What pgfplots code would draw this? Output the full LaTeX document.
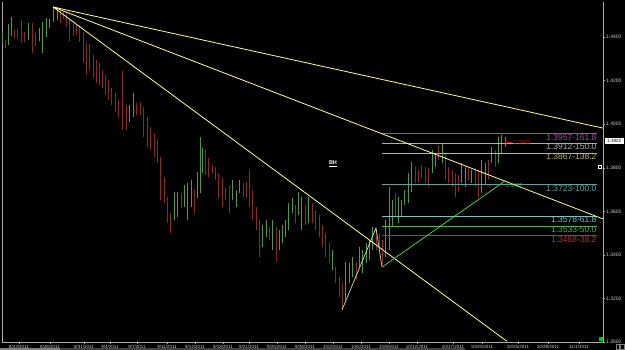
\documentclass[border=0pt]{standalone}
\usepackage{pgfplots}
\pgfplotsset{compat=1.18}
\usepackage{fontspec}
\setmainfont{Liberation Sans}
\definecolor{bargreen}{RGB}{75,155,75}
\definecolor{barred}{RGB}{140,42,42}
\definecolor{fanyellow}{RGB}{255,255,140}
\definecolor{legpale}{RGB}{200,230,160}
\definecolor{leggreen}{RGB}{80,200,80}
\definecolor{fibA}{RGB}{165,75,165}
\definecolor{fibB}{RGB}{175,175,175}
\definecolor{fibC}{RGB}{185,185,115}
\definecolor{fibD}{RGB}{100,160,160}
\definecolor{fibE}{RGB}{120,195,195}
\definecolor{fibF}{RGB}{80,175,80}
\definecolor{fibG}{RGB}{185,50,50}
\definecolor{axgray}{RGB}{170,170,170}
\definecolor{labgray}{RGB}{205,205,205}
\begin{document}
\begin{tikzpicture}
\fill[black] (0,0) rectangle (625pt,350pt);
\fill[black!75] (0,0) rectangle (465pt,2pt);
\fill[black!50] (0,0) rectangle (60pt,2pt);
\begin{axis}[
  at={(2pt,348pt)}, anchor=north west,
  scale only axis, width=601pt, height=340pt,
  xmin=2, xmax=603, ymin=1.3000, ymax=1.4561,
  axis x line*=bottom, axis y line*=right,
  axis line style={axgray, line width=0.6pt},
  clip=false,
  tick align=outside, major tick length=2pt,
  tick style={axgray, line width=0.4pt},
  ytick={1.30,1.32,1.34,1.36,1.38,1.40,1.42,1.44},
  /pgf/number format/assume math mode=true,
  yticklabel style={/pgf/number format/fixed, /pgf/number format/fixed zerofill, /pgf/number format/precision=4, font=\fontsize{5}{5.5}\selectfont, text=labgray, inner sep=1pt},
  xtick={19,50,84,110,137,167,195,223,249,277,305,333,361,389,417,453,482,518,548,579},
  xticklabels={8/23/2011,8/26/2011,8/31/2011,9/4/2011,9/7/2011,9/11/2011,9/14/2011,9/18/2011,9/21/2011,9/25/2011,9/28/2011,10/2/2011,10/5/2011,10/9/2011,10/12/2011,10/17/2011,10/20/2011,10/25/2011,10/28/2011,11/1/2011},
  xticklabel style={font=\fontsize{4.5}{5}\selectfont, text=labgray, inner sep=0.6pt},
]
\draw[axgray, line width=0.6pt] (rel axis cs:0,0) -- (rel axis cs:0,1);
% green bars (high-low)
\addplot[bargreen, line width=0.9pt, unbounded coords=jump] coordinates {
(2,1.4373)(2,1.4423)(2,nan)
(8,1.4363)(8,1.4460)(8,nan)
(11,1.4405)(11,1.4492)(11,nan)
(28,1.4386)(28,1.4464)(28,nan)
(39,1.4382)(39,1.4441)(39,nan)
(42,1.4327)(42,1.4469)(42,nan)
(46,1.4400)(46,1.4487)(46,nan)
(49,1.4441)(49,1.4483)(49,nan)
(53,1.4469)(53,1.4538)(53,nan)
(57,1.4478)(57,1.4538)(57,nan)
(129,1.4010)(129,1.4088)(129,nan)
(133,1.4033)(133,1.4143)(133,nan)
(174,1.3560)(174,1.3689)(174,nan)
(177,1.3574)(177,1.3689)(177,nan)
(184,1.3620)(184,1.3721)(184,nan)
(187,1.3560)(187,1.3730)(187,nan)
(191,1.3620)(191,1.3744)(191,nan)
(197,1.3661)(197,1.3781)(197,nan)
(200,1.3684)(200,1.3941)(200,nan)
(202,1.3776)(202,1.3891)(202,nan)
(232,1.3652)(232,1.3744)(232,nan)
(236,1.3620)(236,1.3698)(236,nan)
(239,1.3684)(239,1.3744)(239,nan)
(262,1.3436)(262,1.3537)(262,nan)
(266,1.3482)(266,1.3560)(266,nan)
(272,1.3422)(272,1.3560)(272,nan)
(279,1.3422)(279,1.3514)(279,nan)
(282,1.3455)(282,1.3537)(282,nan)
(285,1.3482)(285,1.3560)(285,nan)
(288,1.3514)(288,1.3638)(288,nan)
(292,1.3592)(292,1.3661)(292,nan)
(298,1.3583)(298,1.3689)(298,nan)
(301,1.3514)(301,1.3666)(301,nan)
(308,1.3546)(308,1.3666)(308,nan)
(332,1.3331)(332,1.3422)(332,nan)
(345,1.3193)(345,1.3367)(345,nan)
(349,1.3271)(349,1.3363)(349,nan)
(352,1.3299)(352,1.3390)(352,nan)
(359,1.3344)(359,1.3436)(359,nan)
(362,1.3317)(362,1.3422)(362,nan)
(366,1.3363)(366,1.3455)(366,nan)
(369,1.3377)(369,1.3468)(369,nan)
(372,1.3422)(372,1.3528)(372,nan)
(385,1.3390)(385,1.3560)(385,nan)
(389,1.3422)(389,1.3712)(389,nan)
(392,1.3528)(392,1.3652)(392,nan)
(398,1.3546)(398,1.3666)(398,nan)
(401,1.3574)(401,1.3652)(401,nan)
(404,1.3629)(404,1.3698)(404,nan)
(408,1.3638)(408,1.3776)(408,nan)
(411,1.3689)(411,1.3826)(411,nan)
(432,1.3776)(432,1.3881)(432,nan)
(435,1.3803)(435,1.3868)(435,nan)
(442,1.3822)(442,1.3914)(442,nan)
(461,1.3730)(461,1.3822)(461,nan)
(465,1.3712)(465,1.3803)(465,nan)
(471,1.3730)(471,1.3790)(471,nan)
(481,1.3684)(481,1.3836)(481,nan)
(485,1.3721)(485,1.3822)(485,nan)
(491,1.3822)(491,1.3895)(491,nan)
(498,1.3822)(498,1.3941)(498,nan)
(501,1.3868)(501,1.3950)(501,nan)
(505,1.3895)(505,1.3941)(505,nan)
};
% red bars (high-low)
\addplot[barred, line width=0.9pt, unbounded coords=jump] coordinates {
(5,1.4350)(5,1.4386)(5,nan)
(14,1.4396)(14,1.4432)(14,nan)
(17,1.4396)(17,1.4437)(17,nan)
(21,1.4373)(21,1.4478)(21,nan)
(24,1.4377)(24,1.4423)(24,nan)
(32,1.4327)(32,1.4464)(32,nan)
(35,1.4359)(35,1.4419)(35,nan)
(60,1.4464)(60,1.4529)(60,nan)
(63,1.4483)(63,1.4520)(63,nan)
(66,1.4446)(66,1.4520)(66,nan)
(69,1.4382)(69,1.4478)(69,nan)
(73,1.4405)(73,1.4460)(73,nan)
(76,1.4409)(76,1.4455)(76,nan)
(79,1.4377)(79,1.4455)(79,nan)
(83,1.4285)(83,1.4423)(83,nan)
(86,1.4226)(86,1.4373)(86,nan)
(89,1.4249)(89,1.4368)(89,nan)
(93,1.4212)(93,1.4318)(93,nan)
(96,1.4190)(96,1.4295)(96,nan)
(99,1.4180)(99,1.4281)(99,nan)
(102,1.4166)(102,1.4249)(102,nan)
(105,1.4134)(105,1.4226)(105,nan)
(108,1.4111)(108,1.4203)(108,nan)
(111,1.4088)(111,1.4166)(111,nan)
(115,1.4056)(115,1.4143)(115,nan)
(118,1.4033)(118,1.4111)(118,nan)
(122,1.3973)(122,1.4244)(122,nan)
(126,1.3973)(126,1.4088)(126,nan)
(136,1.4042)(136,1.4097)(136,nan)
(140,1.4042)(140,1.4102)(140,nan)
(143,1.3941)(143,1.4079)(143,nan)
(147,1.3895)(147,1.4033)(147,nan)
(150,1.3881)(150,1.3987)(150,nan)
(154,1.3849)(154,1.3960)(154,nan)
(157,1.3822)(157,1.3927)(157,nan)
(160,1.3652)(160,1.3849)(160,nan)
(164,1.3638)(164,1.3758)(164,nan)
(167,1.3546)(167,1.3666)(167,nan)
(170,1.3501)(170,1.3592)(170,nan)
(181,1.3615)(181,1.3684)(181,nan)
(194,1.3592)(194,1.3698)(194,nan)
(205,1.3767)(205,1.3881)(205,nan)
(208,1.3758)(208,1.3845)(208,nan)
(212,1.3776)(212,1.3813)(212,nan)
(215,1.3744)(215,1.3803)(215,nan)
(218,1.3661)(218,1.3776)(218,nan)
(222,1.3620)(222,1.3753)(222,nan)
(225,1.3652)(225,1.3707)(225,nan)
(229,1.3592)(229,1.3721)(229,nan)
(243,1.3666)(243,1.3730)(243,nan)
(246,1.3661)(246,1.3735)(246,nan)
(249,1.3620)(249,1.3790)(249,nan)
(252,1.3560)(252,1.3698)(252,nan)
(256,1.3514)(256,1.3620)(256,nan)
(259,1.3390)(259,1.3560)(259,nan)
(269,1.3468)(269,1.3528)(269,nan)
(276,1.3367)(276,1.3528)(276,nan)
(295,1.3546)(295,1.3629)(295,nan)
(305,1.3537)(305,1.3629)(305,nan)
(312,1.3546)(312,1.3638)(312,nan)
(315,1.3514)(315,1.3606)(315,nan)
(319,1.3482)(319,1.3583)(319,nan)
(322,1.3436)(322,1.3537)(322,nan)
(325,1.3390)(325,1.3501)(325,nan)
(329,1.3363)(329,1.3455)(329,nan)
(335,1.3271)(335,1.3344)(335,nan)
(339,1.3207)(339,1.3299)(339,nan)
(342,1.3147)(342,1.3271)(342,nan)
(356,1.3285)(356,1.3367)(356,nan)
(376,1.3422)(376,1.3514)(376,nan)
(379,1.3422)(379,1.3501)(379,nan)
(382,1.3354)(382,1.3468)(382,nan)
(395,1.3574)(395,1.3684)(395,nan)
(415,1.3730)(415,1.3803)(415,nan)
(418,1.3730)(418,1.3790)(418,nan)
(421,1.3753)(421,1.3813)(421,nan)
(425,1.3730)(425,1.3803)(425,nan)
(428,1.3712)(428,1.3799)(428,nan)
(438,1.3836)(438,1.3904)(438,nan)
(445,1.3744)(445,1.3868)(445,nan)
(448,1.3730)(448,1.3803)(448,nan)
(452,1.3712)(452,1.3790)(452,nan)
(455,1.3666)(455,1.3776)(455,nan)
(458,1.3689)(458,1.3767)(458,nan)
(468,1.3744)(468,1.3803)(468,nan)
(475,1.3712)(475,1.3799)(475,nan)
(478,1.3666)(478,1.3790)(478,nan)
(488,1.3744)(488,1.3836)(488,nan)
(495,1.3803)(495,1.3881)(495,nan)
};
% fibonacci levels
\addplot[fibA, line width=0.6pt] coordinates {(382,1.3957)(597,1.3957)};
\addplot[fibB, line width=0.6pt] coordinates {(382,1.3912)(597,1.3912)};
\addplot[fibC, line width=0.6pt] coordinates {(382,1.3867)(597,1.3867)};
\addplot[fibD, line width=0.6pt] coordinates {(382,1.3723)(597,1.3723)};
\addplot[fibE, line width=0.6pt] coordinates {(382,1.3578)(597,1.3578)};
\addplot[fibF, line width=0.6pt] coordinates {(382,1.3533)(597,1.3533)};
\addplot[fibG, line width=0.6pt] coordinates {(382,1.3488)(597,1.3488)};
% fan lines
\addplot[fanyellow, line width=0.8pt] coordinates {(53,1.4538)(603,1.3982)};
\addplot[fanyellow, line width=0.8pt] coordinates {(53,1.4538)(603,1.3565)};
\addplot[fanyellow, line width=0.8pt] coordinates {(53,1.4538)(507,1.3003)};
% pattern legs
\addplot[legpale, line width=0.7pt] coordinates {(342,1.3147)(376,1.3523)(382,1.3344)};
\addplot[leggreen, line width=0.8pt] coordinates {(382,1.3344)(505,1.3739)};
\addplot[only marks, mark=square*, mark size=1.6pt, color=green!80!black] coordinates {(601,1.3016)};
% labels
\tikzset{fibl/.style={anchor=north east, inner sep=0.4pt, font=\fontsize{8.5}{9}\selectfont}}
\node[fibl, text=fibA] at (axis cs:597,1.3957) {1.3957-161.8};
\node[fibl, text=fibB] at (axis cs:597,1.3912) {1.3912-150.0};
\node[fibl, text=fibC] at (axis cs:597,1.3867) {1.3867-138.2};
\node[fibl, text=fibD] at (axis cs:597,1.3723) {1.3723-100.0};
\node[fibl, text=fibE] at (axis cs:597,1.3578) {1.3578-61.8};
\node[fibl, text=fibF] at (axis cs:597,1.3533) {1.3533-50.0};
\node[fibl, text=fibG] at (axis cs:597,1.3488) {1.3488-38.2};
\node[text=white, font=\fontsize{5.5}{6}\selectfont\bfseries, inner sep=0pt] at (axis cs:333,1.3817) {\underline{BH}};
\node[text=red!75!black, font=\fontsize{5.5}{6}\selectfont, anchor=west, inner sep=0.5pt] at (axis cs:513,1.3916) {1.3962};
\draw[red!75!black, line width=0.5pt, ->] (axis cs:512,1.3917) -- (axis cs:505,1.3917);
\node[text=fibF, font=\fontsize{5.5}{6}\selectfont, anchor=west, inner sep=0.5pt] at (axis cs:505,1.3719) {1.3737};
\node[fill=white, text=black, font=\fontsize{4.6}{5}\selectfont, inner sep=0.5pt, minimum width=19pt, minimum height=6pt, anchor=west] at (axis cs:604.5,1.3922) {1.3922};
\node[draw=white, line width=0.4pt, inner sep=0pt, minimum size=3pt] at (axis cs:600,1.3803) {};
\end{axis}
\draw[black!50, line width=0.4pt] (616pt,1pt) rectangle (619.5pt,6pt);
\draw[black!50, line width=0.4pt] (620.5pt,1pt) rectangle (624pt,6pt);
\pgfresetboundingbox
\useasboundingbox (0,0) rectangle (625pt,350pt);
\end{tikzpicture}
\end{document}
